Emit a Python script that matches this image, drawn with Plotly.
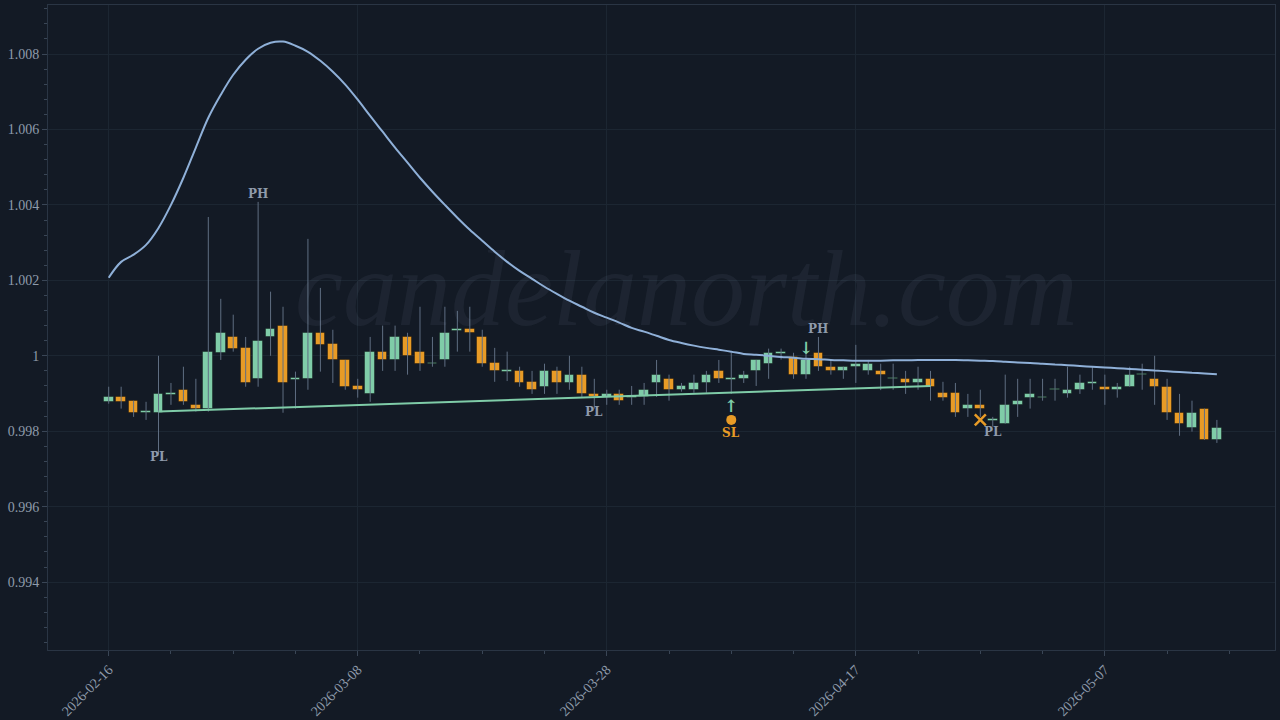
import pandas as pd
import numpy as np
import plotly.graph_objects as go

dates = pd.date_range("2026-02-16", periods=90, freq="D")

opens = [.99878,.99891,.99881,.99850,.99849,.99898,.99910,.99870,.99860,1.00008,
         1.00050,1.00021,.99939,1.00050,1.00080,.99937,.99939,1.00061,1.00032,.99989,
         .99921,.99899,1.00011,.99989,1.00050,1.00011,.99978,.99989,1.00068,1.00072,
         1.00050,.99981,.99959,.99960,.99931,.99918,.99960,.99928,.99950,.99899,
         .99891,.99899,.99890,.99891,.99928,.99939,.99910,.99910,.99928,.99960,
         .99938,.99939,.99960,.99979,1.00007,.99997,.99950,1.00008,.99971,.99960,
         .99971,.99960,.99960,.99939,.99939,.99928,.99939,.99902,.99902,.99860,
         .99870,.99829,.99820,.99870,.99889,.99888,.99909,.99899,.99910,.99927,
         .99918,.99910,.99918,.99949,.99939,.99918,.99849,.99809,.99860,.99777]
highs = [.99918,.99918,.99881,.99878,1.00000,.99928,.99971,.99939,1.00368,1.00151,
         1.00109,1.00050,1.00408,1.00170,1.00130,.99958,1.00310,1.00180,1.00069,.99989,
         .99939,1.00050,1.00080,1.00080,1.00061,1.00130,1.00050,1.00130,1.00119,1.00130,
         1.00069,1.00021,1.00011,.99971,.99960,.99979,.99971,1.00000,.99971,.99939,
         .99910,.99910,.99920,.99928,.99989,.99950,.99928,.99950,.99960,.99989,
         1.00008,.99960,.99989,1.00019,1.00019,1.00008,1.00019,1.00050,.99989,.99971,
         1.00029,.99989,.99979,.99979,.99960,.99971,.99960,.99931,.99928,.99899,
         .99910,.99838,.99950,.99939,.99939,.99939,.99939,.99971,.99950,.99971,
         .99950,.99928,.99971,.99979,1.00000,.99939,.99899,.99881,.99860,.99830]
lows = [.99873,.99860,.99838,.99830,.99740,.99870,.99870,.99852,.99852,.99989,
        1.00011,.99918,.99918,1.00000,.99849,.99860,.99910,.99958,.99928,.99910,
        .99889,.99878,.99960,.99960,.99950,.99960,.99971,.99971,1.00011,1.00011,
        .99971,.99931,.99933,.99918,.99899,.99899,.99899,.99910,.99891,.99860,
        .99870,.99870,.99870,.99870,.99891,.99881,.99905,.99902,.99902,.99928,
        .99899,.99928,.99920,.99939,.99990,.99939,.99939,.99960,.99950,.99939,
        .99928,.99950,.99909,.99910,.99899,.99910,.99881,.99881,.99838,.99838,
        .99838,.99812,.99820,.99838,.99860,.99881,.99881,.99889,.99899,.99910,
        .99870,.99889,.99918,.99910,.99870,.99830,.99788,.99799,.99777,.99769]
closes = [.99891,.99878,.99849,.99852,.99899,.99900,.99878,.99860,1.00011,1.00061,
          1.00019,.99928,1.00040,1.00072,.99928,.99940,1.00061,1.00029,.99989,.99918,
          .99908,1.00011,.99989,1.00050,1.00000,.99979,.99980,1.00061,1.00070,1.00061,
          .99979,.99960,.99961,.99928,.99910,.99960,.99928,.99950,.99899,.99891,
          .99899,.99881,.99892,.99910,.99950,.99910,.99920,.99928,.99950,.99939,
          .99940,.99950,.99989,1.00008,1.00009,.99950,.99989,.99971,.99960,.99971,
          .99979,.99979,.99950,.99941,.99928,.99939,.99918,.99889,.99849,.99870,
          .99860,.99831,.99870,.99881,.99899,.99890,.99911,.99910,.99928,.99929,
          .99910,.99918,.99950,.99951,.99918,.99849,.99820,.99849,.99777,.99809]

curve = [1.00207,1.00249,1.00268,1.00294,1.00339,1.00400,1.00472,1.00552,1.00631,1.00692,
         1.00745,1.00785,1.00814,1.00830,1.00833,1.00822,1.00806,1.00782,1.00753,1.00719,
         1.00679,1.00636,1.00594,1.00552,1.00512,1.00472,1.00435,1.00400,1.00366,1.00334,
         1.00305,1.00276,1.00249,1.00225,1.00204,1.00183,1.00164,1.00146,1.00130,1.00114,
         1.00101,1.00088,1.00074,1.00064,1.00053,1.00042,1.00034,1.00027,1.00021,1.00016,
         1.00011,1.00005,1.00003,1.00000,.99997,.99995,.99992,.99991,.99989,.99988,
         .99987,.99987,.99987,.99988,.99988,.99989,.99989,.99989,.99989,.99988,
         .99987,.99986,.99984,.99982,.99981,.99979,.99977,.99975,.99973,.99971,
         .99969,.99967,.99965,.99963,.99961,.99959,.99957,.99955,.99953,.99951]

trend_dates = ["2026-02-20", "2026-04-23"]
trend_vals = [.99852, .99920]

GREEN = "#7fcca8"
ORANGE = "#e89b26"
BG = "#131a25"
TXT = "#8f9bab"

o = np.array(opens); c = np.array(closes)
up = c >= o
base = np.minimum(o, c)
height = np.maximum(np.abs(c - o), 0.00004)
base = np.where(np.abs(c - o) < 0.00004, (o + c) / 2 - 0.00002, base)

fig = go.Figure()

# wicks
wx, wy = [], []
for d, h, l in zip(dates, highs, lows):
    wx += [d, d, None]
    wy += [l, h, None]
fig.add_trace(go.Scatter(x=wx, y=wy, mode="lines", line=dict(color="#5f6e82", width=1),
                         hoverinfo="skip", showlegend=False))

fig.add_trace(go.Bar(x=dates, y=height, base=base, width=0.78 * 86400000,
                     marker=dict(color=[GREEN if u else ORANGE for u in up],
                                 line=dict(color="rgba(0,0,0,0.35)", width=1)),
                     showlegend=False))

fig.add_trace(go.Scatter(x=dates, y=curve, mode="lines", line=dict(color="#8fb0d8", width=2, shape="spline"),
                         showlegend=False))
fig.add_trace(go.Scatter(x=trend_dates, y=trend_vals, mode="lines", line=dict(color=GREEN, width=2),
                         showlegend=False))

# signal markers
fig.add_trace(go.Scatter(x=["2026-04-07"], y=[.99830], mode="markers",
                         marker=dict(color=ORANGE, size=10), showlegend=False))
fig.add_trace(go.Scatter(x=["2026-04-27"], y=[.99830], mode="markers",
                         marker=dict(color=ORANGE, size=11, symbol="x-thin", line=dict(color=ORANGE, width=2.5)),
                         showlegend=False))

ann = [("2026-02-20", .99733, "PL", TXT), ("2026-02-28", 1.00430, "PH", TXT),
       ("2026-03-27", .99852, "PL", TXT), ("2026-04-14", 1.00070, "PH", TXT),
       ("2026-04-28", .99797, "PL", TXT), ("2026-04-07", .99795, "SL", ORANGE),
       ("2026-04-07", .99866, "↑", GREEN), ("2026-04-13", 1.00020, "↓", GREEN)]
for x, y, t, col in ann:
    fig.add_annotation(x=x, y=y, text="<b>%s</b>" % t, showarrow=False,
                       font=dict(color=col, size=12 if len(t) > 1 else 17, family="DejaVu Serif"))

fig.add_annotation(xref="paper", yref="paper", x=0.52, y=0.56, text="<i>candelanorth.com</i>",
                   showarrow=False, font=dict(size=108, color="rgba(150,165,185,0.08)", family="Liberation Serif"))

fig.update_layout(
    width=1280, height=720, paper_bgcolor=BG, plot_bgcolor=BG,
    margin=dict(l=48, r=5, t=5, b=70), bargap=0,
    font=dict(family="Liberation Serif", size=14, color=TXT),
    xaxis=dict(range=["2026-02-11 03:00", "2026-05-20 16:00"], type="date", automargin=False,
               tickvals=["2026-02-16", "2026-03-08", "2026-03-28", "2026-04-17", "2026-05-07"],
               ticktext=["2026-02-16", "2026-03-08", "2026-03-28", "2026-04-17", "2026-05-07"],
               tickangle=-45, gridcolor="#1c2632", showline=True, linecolor="#2a3544", mirror=True,
               ticks="outside", tickcolor="#3a4656", ticklen=5,
               minor=dict(ticks="outside", ticklen=3, tickcolor="#3a4656", dtick=5 * 86400000,
                          tick0="2026-02-16"), zeroline=False, rangeslider=dict(visible=False)),
    yaxis=dict(range=[0.99220, 1.0093], automargin=False,
               tickvals=[0.994, 0.996, 0.998, 1.0, 1.002, 1.004, 1.006, 1.008],
               ticktext=["0.994", "0.996", "0.998", "1", "1.002", "1.004", "1.006", "1.008"],
               gridcolor="#1c2632", showline=True, linecolor="#2a3544", mirror=True,
               ticks="outside", tickcolor="#3a4656", ticklen=5, zeroline=False,
               minor=dict(ticks="outside", ticklen=3, tickcolor="#3a4656", dtick=0.0004)),
)

fig.write_html("out.html", config={"displayModeBar": False},
               post_script="document.body.style.margin='0';")
